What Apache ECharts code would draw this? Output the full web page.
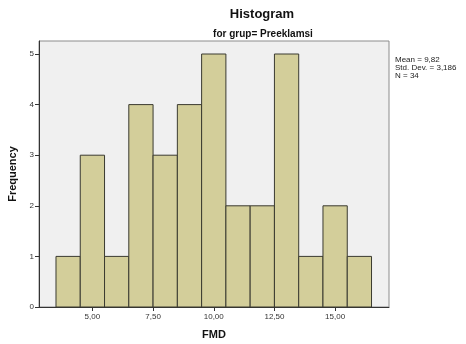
<!DOCTYPE html>
<html>
<head>
<meta charset="utf-8">
<script src="https://cdn.jsdelivr.net/npm/echarts@6/dist/echarts.min.js"></script>
<style>
  html, body { margin: 0; padding: 0; background: #fff; }
  #chart { width: 466px; height: 344px; }
</style>
</head>
<body>
<div id="chart"></div>
<script>
// bin centres (FMD) and counts
const binCenters = [4, 5, 6, 7, 8, 9, 10, 11, 12, 13, 14, 15, 16];
const frequencies = [1, 3, 1, 4, 3, 4, 5, 2, 2, 5, 1, 2, 1];
const xTicks = [5, 7.5, 10, 12.5, 15];
const yTicks = [0, 1, 2, 3, 4, 5];
const statsLines = ['Mean = 9,82', 'Std. Dev. = 3,186', 'N = 34'];

const binWidth = 1;
const fontFam = 'Arial, "Liberation Sans", sans-serif';

const chart = echarts.init(document.getElementById('chart'));

const fmt = v => v.toFixed(2).replace('.', ',');

chart.setOption({
    animation: false,
    title: [
        {
            text: 'Histogram', left: 257, top: 3, textAlign: 'center',
            textStyle: {fontFamily: fontFam, fontSize: 13, fontWeight: 'bold', color: '#111'}
        },
        {
            text: 'for grup= Preeklamsi', left: 258, top: 24, textAlign: 'center',
            textStyle: {fontFamily: fontFam, fontSize: 10, fontWeight: 'bold', color: '#111'}
        },
        {
            text: statsLines.join('\n'), left: 390, top: 51,
            textStyle: {fontFamily: fontFam, fontSize: 8, fontWeight: 'normal', color: '#222', lineHeight: 8}
        }
    ],
    grid: {
        left: 39, top: 41, width: 350, height: 266,
        outerBoundsMode: 'none', containLabel: false,
        show: true, backgroundColor: '#f0f0f0', borderColor: '#8c8c8c', borderWidth: 1
    },
    xAxis: {
        type: 'value', min: 2.8, max: 17.22,
        name: 'FMD', nameLocation: 'middle', nameGap: 22,
        nameTextStyle: {fontFamily: fontFam, fontSize: 11, fontWeight: 'bold', color: '#111'},
        axisLine: {show: true, lineStyle: {color: '#333', width: 1}},
        axisTick: {show: true, length: 4, lineStyle: {color: '#333'}, customValues: xTicks},
        axisLabel: {
            customValues: xTicks, formatter: v => fmt(v),
            fontFamily: fontFam, fontSize: 8, color: '#333', margin: 6
        },
        splitLine: {show: false}
    },
    yAxis: {
        type: 'value', min: 0, max: 5.257,
        name: 'Frequency', nameLocation: 'middle', nameGap: 19, nameRotate: 90,
        nameTextStyle: {fontFamily: fontFam, fontSize: 11, fontWeight: 'bold', color: '#111'},
        axisLine: {show: true, lineStyle: {color: '#333', width: 1}},
        axisTick: {show: true, length: 4, lineStyle: {color: '#333'}, customValues: yTicks},
        axisLabel: {customValues: yTicks, fontFamily: fontFam, fontSize: 8, color: '#333', margin: 5},
        splitLine: {show: false}
    },
    series: [{
        type: 'custom',
        data: binCenters.map((c, i) => [c, frequencies[i]]),
        renderItem: (params, api) => {
            const c = api.value(0);
            const f = api.value(1);
            const p0 = api.coord([c - binWidth / 2, 0]);
            const p1 = api.coord([c + binWidth / 2, f]);
            return {
                type: 'rect',
                shape: {x: p0[0], y: p1[1], width: p1[0] - p0[0], height: p0[1] - p1[1]},
                style: {fill: '#d3ce9a', stroke: '#3a3a30', lineWidth: 1}
            };
        }
    }]
});
</script>
</body>
</html>
